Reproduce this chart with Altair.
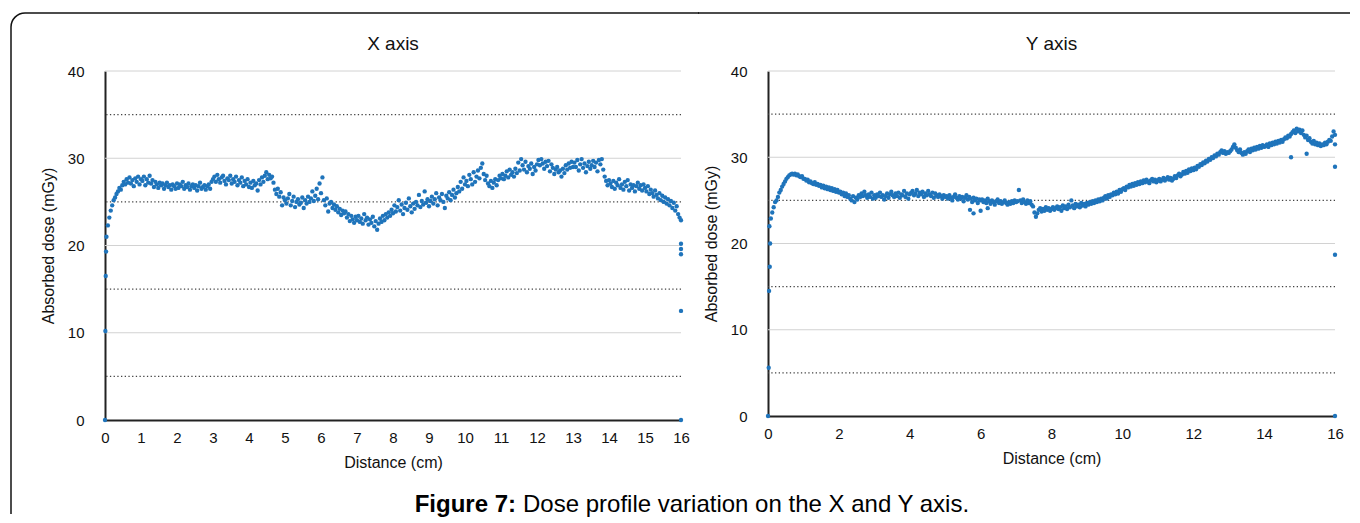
import altair as alt
import pandas as pd

FONT = "Liberation Sans"
DOT_COLOR = "#1f74bb"
FRAME = "#111111"

# sampling step of the dosimeter profile (cm); first sample at one step
STEP = 0.04

# ---- X axis profile (absorbed dose, mGy), 25 samples per cm ----
x_profile = [
    21.0, 22.3, 23.2, 24.0, 24.6, 25.2, 25.5, 25.9, 26.2, 26.6, 26.4, 26.9, 27.3, 27.0, 27.6, 27.2, 27.8, 27.1, 27.5, 26.8, 27.7, 27.3, 27.9, 27.0, 27.6,
    27.4, 27.9, 26.9, 27.6, 27.2, 28.0, 27.1, 27.5, 26.7, 27.3, 27.0, 26.6, 27.2, 26.9, 27.1, 26.5, 26.9, 27.2, 26.7, 26.9, 26.4, 27.0, 26.8, 26.5, 27.1,
    26.6, 27.0, 26.8, 27.3, 26.5, 26.9, 26.7, 27.1, 26.4, 26.8, 27.0, 26.6, 26.9, 26.3, 26.8, 27.2, 26.5, 26.7, 26.9, 26.4, 26.8, 27.0, 26.5, 27.3, 27.6,
    27.9, 27.3, 28.1, 27.6, 27.2, 27.8, 28.0, 27.4, 27.0, 27.7, 27.5, 28.0, 27.1, 27.6, 27.3, 27.9, 26.9, 27.5, 27.2, 27.8, 26.8, 27.4, 27.0, 27.6, 26.7,
    27.2, 26.6, 27.4, 26.9, 27.1, 26.3, 27.5, 27.0, 27.8, 27.3, 28.0, 28.4, 27.6, 28.1, 27.7, 27.9, 27.2, 26.4, 25.9, 26.5, 25.6, 26.1, 24.6, 25.5, 25.2,
    24.8, 25.4, 25.9, 24.6, 25.1, 25.6, 24.4, 25.0, 25.3, 24.7, 24.9, 25.5, 24.3, 25.2, 24.8, 25.6, 25.0, 25.4, 26.2, 25.1, 25.7, 26.5, 25.3, 27.1, 26.0,
    27.8, 25.2, 24.6, 25.4, 23.9, 24.8, 25.0, 24.3, 24.7, 24.1, 24.5, 23.8, 24.2, 23.5, 24.0, 23.7, 23.9, 23.2, 23.6, 22.8, 23.4, 23.0, 22.6, 23.3, 22.9,
    23.4, 22.7, 23.1, 22.5, 23.6, 22.9, 23.2, 22.4, 23.0, 22.6, 23.3, 22.2, 22.8, 21.8, 22.5, 23.1, 22.7, 23.4, 22.9, 23.6, 23.2, 23.8, 23.4, 24.1, 23.7,
    24.6, 23.9, 24.4, 25.2, 24.0, 24.7, 23.6, 24.3, 24.9, 24.1, 25.4, 24.5, 23.8, 24.8, 24.2, 25.0, 24.6, 25.8, 24.4, 25.1, 24.7, 26.2, 24.9, 25.3, 24.5,
    25.1, 25.6, 24.8, 25.3, 26.0, 24.6, 25.5, 25.2, 25.9, 25.0, 24.3, 25.7, 25.4, 26.1, 25.2, 25.8, 26.4, 25.5, 26.0, 26.7, 26.2, 27.3, 26.5, 27.8, 27.0,
    27.4, 26.8, 28.1, 27.6, 27.0, 28.4, 27.3, 27.9, 28.6, 27.7, 28.9, 29.4, 28.2, 27.5, 28.0, 27.1, 26.8, 27.4, 26.6, 27.2, 27.6, 26.9, 27.5, 28.0, 27.7,
    28.2, 27.6, 28.0, 28.5, 27.8, 28.7, 28.1, 28.4, 27.9, 28.8, 28.3, 29.5, 28.6, 29.9, 29.2, 28.7, 29.6, 28.4, 29.1, 28.8, 29.4, 28.2, 29.0, 28.6, 29.3,
    29.8, 29.2, 29.9, 29.4, 28.8, 29.6, 29.1, 29.7, 28.5, 29.3, 28.9, 28.2, 28.7, 29.0, 28.4, 28.6, 27.9, 28.8, 28.3, 29.2, 28.7, 29.4, 28.9, 29.6, 29.0,
    29.5, 29.0, 29.8, 28.6, 29.3, 29.9, 28.9, 29.4, 28.4, 29.1, 29.6, 28.8, 29.2, 29.7, 29.0, 29.5, 28.5, 29.8, 29.3, 29.9, 28.7, 27.9, 27.4, 26.9, 27.5,
    27.1, 26.7, 27.4, 26.5, 27.2, 26.9, 27.6, 26.6, 27.0, 26.4, 27.3, 26.8, 27.5, 26.3, 27.0, 26.6, 26.9, 26.2, 26.8, 27.2, 26.5, 26.9, 26.3, 27.0, 26.6,
    26.2, 26.8, 25.9, 26.4, 26.0, 25.6, 26.3, 25.8, 25.4, 26.0, 25.2, 25.7, 25.0, 25.5, 24.8, 25.3, 24.6, 25.1, 24.3, 24.9, 24.0, 24.5, 23.6, 23.2, 22.9,
]
# edge readings of the X profile (distance, dose)
x_edge_d = [0.0, 0.01, 0.02, 0.03, 16.0, 16.0, 16.0, 16.0, 16.0]
x_edge_v = [0.0, 10.2, 16.5, 19.3, 20.2, 19.6, 19.0, 12.5, 0.0]

# ---- Y axis profile (absorbed dose, mGy), 25 samples per cm ----
y_profile = [
    22.0, 22.9, 23.6, 24.2, 24.8, 25.0, 25.4, 25.9, 26.2, 26.6, 26.9, 27.2, 27.5, 27.7, 27.9, 28.0, 28.1, 28.0, 28.1, 27.9, 28.0, 27.8, 27.7, 27.8, 27.5,
    27.5, 27.3, 27.4, 27.1, 27.2, 27.0, 26.9, 27.1, 26.8, 26.9, 26.7, 26.8, 26.5, 26.7, 26.4, 26.6, 26.3, 26.5, 26.2, 26.4, 26.1, 26.3, 26.0, 26.2, 25.9,
    26.0, 25.7, 25.9, 25.5, 25.8, 25.4, 25.6, 25.2, 25.0, 25.5, 24.8, 25.3, 25.1, 25.6, 25.4, 25.8, 25.5, 26.0, 25.6, 25.3, 25.7, 25.4, 25.9, 25.2, 25.6,
    25.3, 25.7, 25.5, 25.9, 25.4, 25.6, 25.1, 25.5, 25.8, 25.3, 25.7, 26.0, 25.6, 25.4, 25.8, 25.5, 25.9, 25.3, 25.7, 25.6, 26.1, 25.4, 25.8, 25.2, 25.7,
    25.9, 26.1, 25.6, 25.8, 26.2, 25.5, 25.9, 25.7, 26.0, 25.4, 25.8, 25.6, 26.1, 25.7, 25.5, 25.9, 25.3, 25.8, 25.6, 25.4, 25.7, 25.5, 25.2, 25.6, 25.4,
    25.5, 25.2, 25.6, 25.3, 25.0, 25.4, 25.7, 25.3, 25.1, 25.5, 25.2, 25.4, 24.9, 25.3, 25.6, 25.1, 25.4, 25.2, 24.8, 25.3, 25.0, 25.2, 24.7, 25.1, 25.0,
    25.1, 24.8, 25.0, 24.7, 25.2, 24.9, 24.6, 25.0, 24.8, 24.5, 24.9, 25.1, 24.7, 24.9, 24.6, 24.8, 25.0, 24.7, 24.5, 24.8, 24.6, 24.9, 24.7, 25.0, 24.8,
    24.9, 26.2, 25.0, 24.7, 25.1, 24.8, 24.6, 25.0, 24.7, 24.9, 24.5, 24.3, 23.6, 23.1, 23.5, 23.9, 24.1, 23.7, 24.0, 23.8, 24.2, 23.9, 24.1, 23.8, 24.0,
    24.2, 23.9, 24.1, 24.3, 24.0, 24.2, 23.8, 24.4, 24.1, 24.3, 24.0, 24.5, 24.2, 25.0, 24.4, 24.1, 24.6, 24.3, 24.5, 24.2, 24.7, 24.4, 24.6, 24.3, 24.7,
    24.5, 24.8, 24.6, 24.9, 24.7, 25.0, 24.8, 25.1, 24.9, 25.2, 25.0, 25.3, 25.5, 25.2, 25.6, 25.4, 25.7, 25.6, 25.9, 25.7, 26.0, 25.8, 26.2, 26.0, 26.3,
    26.4, 26.2, 26.6, 26.5, 26.8, 26.6, 26.9, 26.7, 27.0, 26.8, 27.1, 26.9, 27.2, 27.0, 27.3, 27.1, 27.4, 27.2, 27.0, 27.3, 27.5, 27.2, 27.4, 27.1, 27.3,
    27.5, 27.2, 27.4, 27.6, 27.3, 27.5, 27.7, 27.4, 27.6, 27.3, 27.5, 27.8, 27.6, 27.9, 28.1, 27.8, 28.0, 28.3, 28.1, 28.4, 28.2, 28.6, 28.4, 28.7, 28.5,
    28.8, 28.6, 29.0, 28.9, 29.2, 29.1, 29.4, 29.3, 29.6, 29.5, 29.8, 29.7, 30.0, 29.9, 30.2, 30.1, 30.4, 30.3, 30.6, 30.8, 30.5, 30.7, 30.4, 30.6, 30.5,
    30.7, 30.9, 31.2, 31.5, 31.1, 30.8, 30.6, 30.9, 30.5, 30.3, 30.6, 30.4, 30.7, 30.9, 30.6, 31.0, 30.8, 31.1, 30.9, 31.2, 31.0, 31.3, 31.1, 31.4, 31.2,
    31.3, 31.5, 31.2, 31.6, 31.4, 31.7, 31.5, 31.8, 31.6, 31.9, 31.7, 32.0, 31.8, 32.1, 32.3, 32.2, 32.5, 32.4, 32.7, 32.9, 33.1, 32.8, 33.3, 33.0, 33.2,
    32.8, 33.1, 32.6, 32.3, 32.5, 32.0, 32.2, 31.8, 31.6, 31.9, 31.5, 31.7, 31.4, 31.6, 31.3, 31.5, 31.4, 31.7, 31.5, 31.8, 32.0, 31.9, 32.4, 33.0, 32.6,
]
# edge readings and isolated points of the Y profile (distance, dose)
y_edge_d = [0.0, 0.02, 0.03, 0.05, 0.06, 5.7, 5.8, 6.0, 6.2, 14.76, 15.2, 16.0, 16.0, 16.0, 16.0]
y_edge_v = [0.0, 5.6, 14.5, 17.3, 20.0, 23.9, 23.5, 23.8, 24.1, 30.0, 30.4, 31.5, 28.9, 18.7, 0.0]

major_grid = [10, 20, 30, 40]
minor_grid = [5, 15, 25, 35]
y_ticks = [0, 10, 20, 30, 40]
x_ticks_left = list(range(0, 17, 1))
x_ticks_right = list(range(0, 17, 2))

title_left = "X axis"
title_right = "Y axis"
caption_bold = "Figure 7:"
caption_rest = "Dose profile variation on the X and Y axis."

frame_df = pd.DataFrame({"k": [0]})


def frame_rule(**enc):
    return alt.Chart(frame_df).mark_rule(color=FRAME, strokeWidth=1.5).encode(**enc)


def panel(title, profile, edge_d, edge_v, xticks, w, h, decor):
    d = [round(STEP * (i + 1), 2) for i in range(len(profile))] + edge_d
    v = profile + edge_v
    df = pd.DataFrame({"d": d, "v": v})

    def yenc():
        return alt.Y(
            "v:Q",
            scale=alt.Scale(domain=[0, 40], nice=False),
            title="Absorbed dose (mGy)",
            axis=alt.Axis(values=y_ticks, grid=False, ticks=False, tickSize=0,
                          labelPadding=21, titlePadding=11, domainColor="#222222",
                          domainWidth=2),
        )

    grid = alt.Chart(pd.DataFrame({"v": major_grid})).mark_rule(
        color="#d2d2d2", strokeWidth=1).encode(y=yenc())
    dotted = alt.Chart(pd.DataFrame({"v": minor_grid})).mark_rule(
        color="#444444", strokeWidth=1.2, strokeDash=[1.3, 2.4]).encode(y=yenc())
    pts = alt.Chart(df).mark_circle(size=19, opacity=1, color=DOT_COLOR).encode(
        x=alt.X("d:Q", scale=alt.Scale(domain=[0, 16], nice=False),
                title="Distance (cm)",
                axis=alt.Axis(values=xticks, grid=False, ticks=False, tickSize=0,
                              labelPadding=10, titlePadding=9,
                              domainColor="#222222", domainWidth=2, labelFlush=False)),
        y=yenc(),
    )
    # panel heading, centred over the plot area
    head = alt.Chart(pd.DataFrame({"t": [title]})).mark_text(
        fontSize=19, font=FONT, color="#111111", align="center", baseline="middle"
    ).encode(text="t:N", x=alt.value(w / 2), y=alt.value(-27))
    return alt.layer(grid, dotted, pts, head, *decor).properties(width=w, height=h)


# figure frame pieces (top edge, left edge, rounded top-left corner)
left_decor = [
    frame_rule(x=alt.value(-80), x2=alt.value(594), y=alt.value(-58)),
    frame_rule(x=alt.value(-94), y=alt.value(-44), y2=alt.value(412)),
    alt.Chart(frame_df).mark_arc(
        color=FRAME, innerRadius=13.25, outerRadius=14.75,
        theta=4.7124, theta2=6.2832).encode(x=alt.value(-80), y=alt.value(-44)),
]
right_decor = [
    frame_rule(x=alt.value(-70), x2=alt.value(582), y=alt.value(-58)),
]

left = panel(title_left, x_profile, x_edge_d, x_edge_v, x_ticks_left, 576, 349, left_decor)
right = panel(title_right, y_profile, y_edge_d, y_edge_v, x_ticks_right, 567, 345, right_decor)

# caption (origin of this view sits under the left plot's origin)
one = pd.DataFrame({"t": [caption_bold]})
two = pd.DataFrame({"t": [caption_rest]})
cap_bold = alt.Chart(one).mark_text(
    align="right", baseline="middle", fontSize=24, font=FONT, fontWeight="bold",
    color="#000000").encode(text="t:N", x=alt.value(411), y=alt.value(21))
cap_rest = alt.Chart(two).mark_text(
    align="left", baseline="middle", fontSize=24, font=FONT, fontWeight="normal",
    color="#000000").encode(text="t:N", x=alt.value(418), y=alt.value(21))
cap_frame = frame_rule(x=alt.value(-94), y=alt.value(-1), y2=alt.value(30))

caption = alt.layer(cap_frame, cap_bold, cap_rest).properties(width=1000, height=30)

chart = alt.vconcat(
    alt.hconcat(left, right, spacing=-3),
    caption,
    spacing=-4,
).properties(
    padding={"left": 2, "top": 4, "right": 0, "bottom": 0},
    background="white",
).configure_view(stroke=None).configure_axis(
    labelFont=FONT, titleFont=FONT, labelFontSize=15, titleFontSize=16,
    titleFontWeight="normal", labelColor="#111111", titleColor="#111111",
)

chart.save("out.html", embed_options={"renderer": "svg", "actions": False})
